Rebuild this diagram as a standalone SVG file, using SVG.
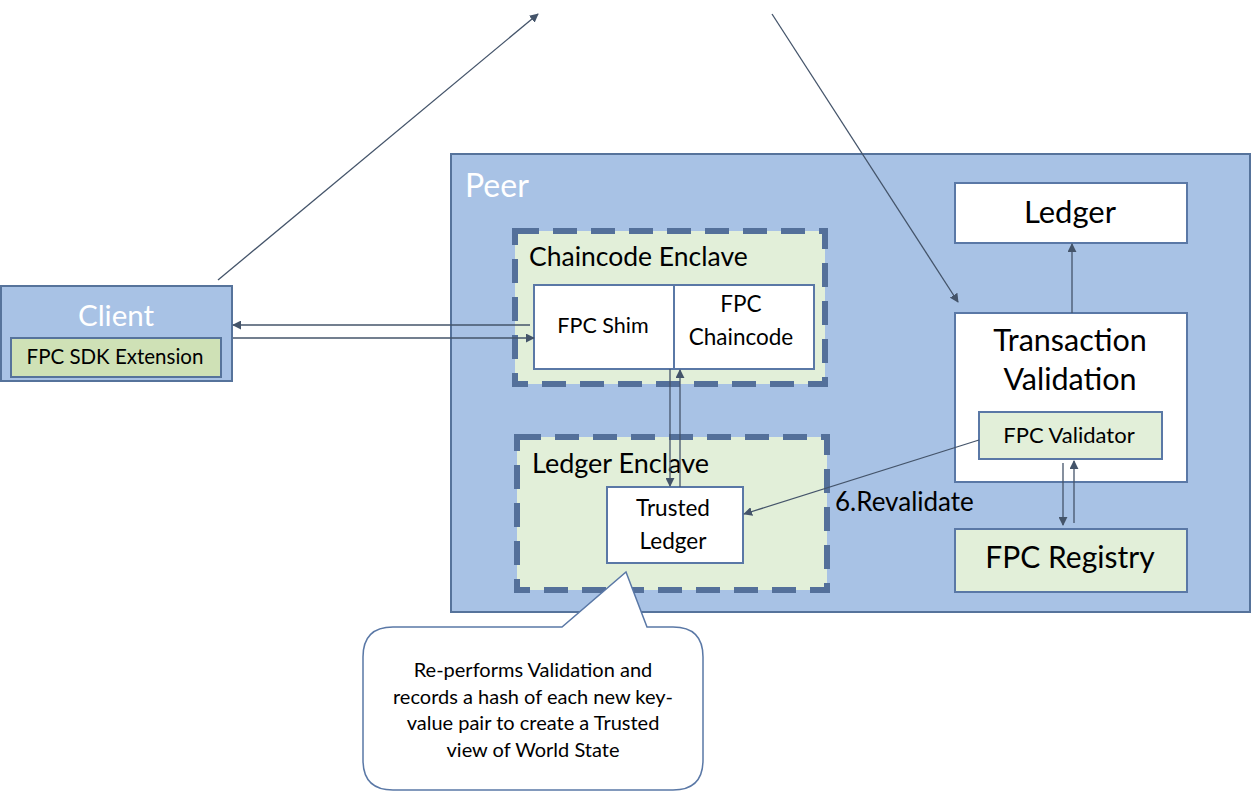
<svg xmlns="http://www.w3.org/2000/svg" width="1252" height="793" viewBox="0 0 1252 793">
<style>
text{font-family:Lato,"Open Sans","Liberation Sans",sans-serif;fill:#000}
.blue{fill:#a8c2e5;stroke:#56739b;stroke-width:2}
.white{fill:#fff;stroke:#5a78a6;stroke-width:2}
.green{fill:#e2efd9;stroke:#5a78a6;stroke-width:2}
.sdk{fill:#cfe1b6;stroke:#56739b;stroke-width:2}
.encl{fill:#e2efd9;stroke:#54709a;stroke-width:6;stroke-dasharray:24 14}
.c{text-anchor:middle}
.conn line{stroke:#44546a;stroke-width:1.3;fill:none}
</style>
<defs>
<marker id="ah" viewBox="0 0 10 10" refX="9" refY="5" markerWidth="9" markerHeight="9" markerUnits="userSpaceOnUse" orient="auto">
<path d="M0,0 L10,5 L0,10 z" fill="#44546a"/>
</marker>
</defs>
<g id="peer">
<rect class="blue" x="451" y="154" width="799" height="458"/>
<text x="465" y="197" font-size="32" style="fill:#fff">Peer</text>
</g>
<g id="client">
<rect class="blue" x="1" y="286" width="231" height="95"/>
<text class="c" x="116" y="326" font-size="29.5" style="fill:#fff">Client</text>
</g>
<g id="sdk">
<rect class="sdk" x="11" y="338" width="210" height="39"/>
<text class="c" x="115" y="364" font-size="20.5">FPC SDK Extension</text>
</g>
<g id="chaincode-enclave">
<rect class="encl" x="515" y="231" width="310" height="153"/>
<text x="529" y="266" font-size="26.5">Chaincode Enclave</text>
</g>
<g id="fpc-shim">
<rect class="white" x="534" y="285" width="140" height="84"/>
<text class="c" x="603" y="333" font-size="21.5">FPC Shim</text>
</g>
<g id="fpc-chaincode">
<rect class="white" x="674" y="285" width="140" height="84"/>
<text class="c" x="741" y="312" font-size="22.5">FPC</text>
<text class="c" x="741" y="345" font-size="22.5">Chaincode</text>
</g>
<g id="ledger-enclave">
<rect class="encl" x="517" y="437" width="310" height="153"/>
<text x="532" y="473" font-size="27">Ledger Enclave</text>
</g>
<g id="trusted-ledger">
<rect class="white" x="607" y="487" width="136" height="76"/>
<text class="c" x="673" y="516" font-size="22.5">Trusted</text>
<text class="c" x="673" y="549" font-size="22.5">Ledger</text>
</g>
<g id="ledger">
<rect class="white" x="955" y="183" width="232" height="60"/>
<text class="c" x="1070" y="223" font-size="31">Ledger</text>
</g>
<g id="transaction-validation">
<rect class="white" x="955" y="313" width="232" height="169"/>
<text class="c" x="1070" y="351" font-size="30.5">Transaction</text>
<text class="c" x="1070" y="390" font-size="30.5">Validation</text>
</g>
<g id="fpc-validator">
<rect class="green" x="979" y="412" width="183" height="47"/>
<text class="c" x="1069" y="443" font-size="22">FPC Validator</text>
</g>
<g id="fpc-registry">
<rect class="green" x="955" y="529" width="232" height="63"/>
<text class="c" x="1070" y="568" font-size="30">FPC Registry</text>
</g>
<g id="callout">
<path d="M393,627 L562,627 L626,572 L647,627 L673,627 Q703,627 703,657 L703,760 Q703,790 673,790 L393,790 Q363,790 363,760 L363,657 Q363,627 393,627 Z" fill="#fff" stroke="#5a78a6" stroke-width="1.5"/>
<text class="c" x="533" y="677" font-size="20">Re-performs Validation and</text>
<text class="c" x="533" y="704" font-size="20">records a hash of each new key-</text>
<text class="c" x="533" y="730" font-size="20">value pair to create a Trusted</text>
<text class="c" x="533" y="757" font-size="20">view of World State</text>
</g>
<g id="connectors" class="conn">
<line x1="218" y1="280" x2="538" y2="14" marker-end="url(#ah)"/>
<line x1="772" y1="14" x2="958" y2="302" marker-end="url(#ah)"/>
<line x1="530" y1="325" x2="233" y2="325" marker-end="url(#ah)"/>
<line x1="233" y1="338" x2="534" y2="338" marker-end="url(#ah)"/>
<line x1="670" y1="369" x2="670" y2="486" marker-end="url(#ah)"/>
<line x1="680" y1="487" x2="680" y2="370" marker-end="url(#ah)"/>
<line x1="1072" y1="313" x2="1072" y2="244" marker-end="url(#ah)"/>
<line x1="1063" y1="463" x2="1063" y2="525" marker-end="url(#ah)"/>
<line x1="1074" y1="523" x2="1074" y2="461" marker-end="url(#ah)"/>
<line x1="979" y1="440" x2="744" y2="514" marker-end="url(#ah)"/>
</g>
<text x="835" y="511" font-size="26">6.Revalidate</text>
</svg>
